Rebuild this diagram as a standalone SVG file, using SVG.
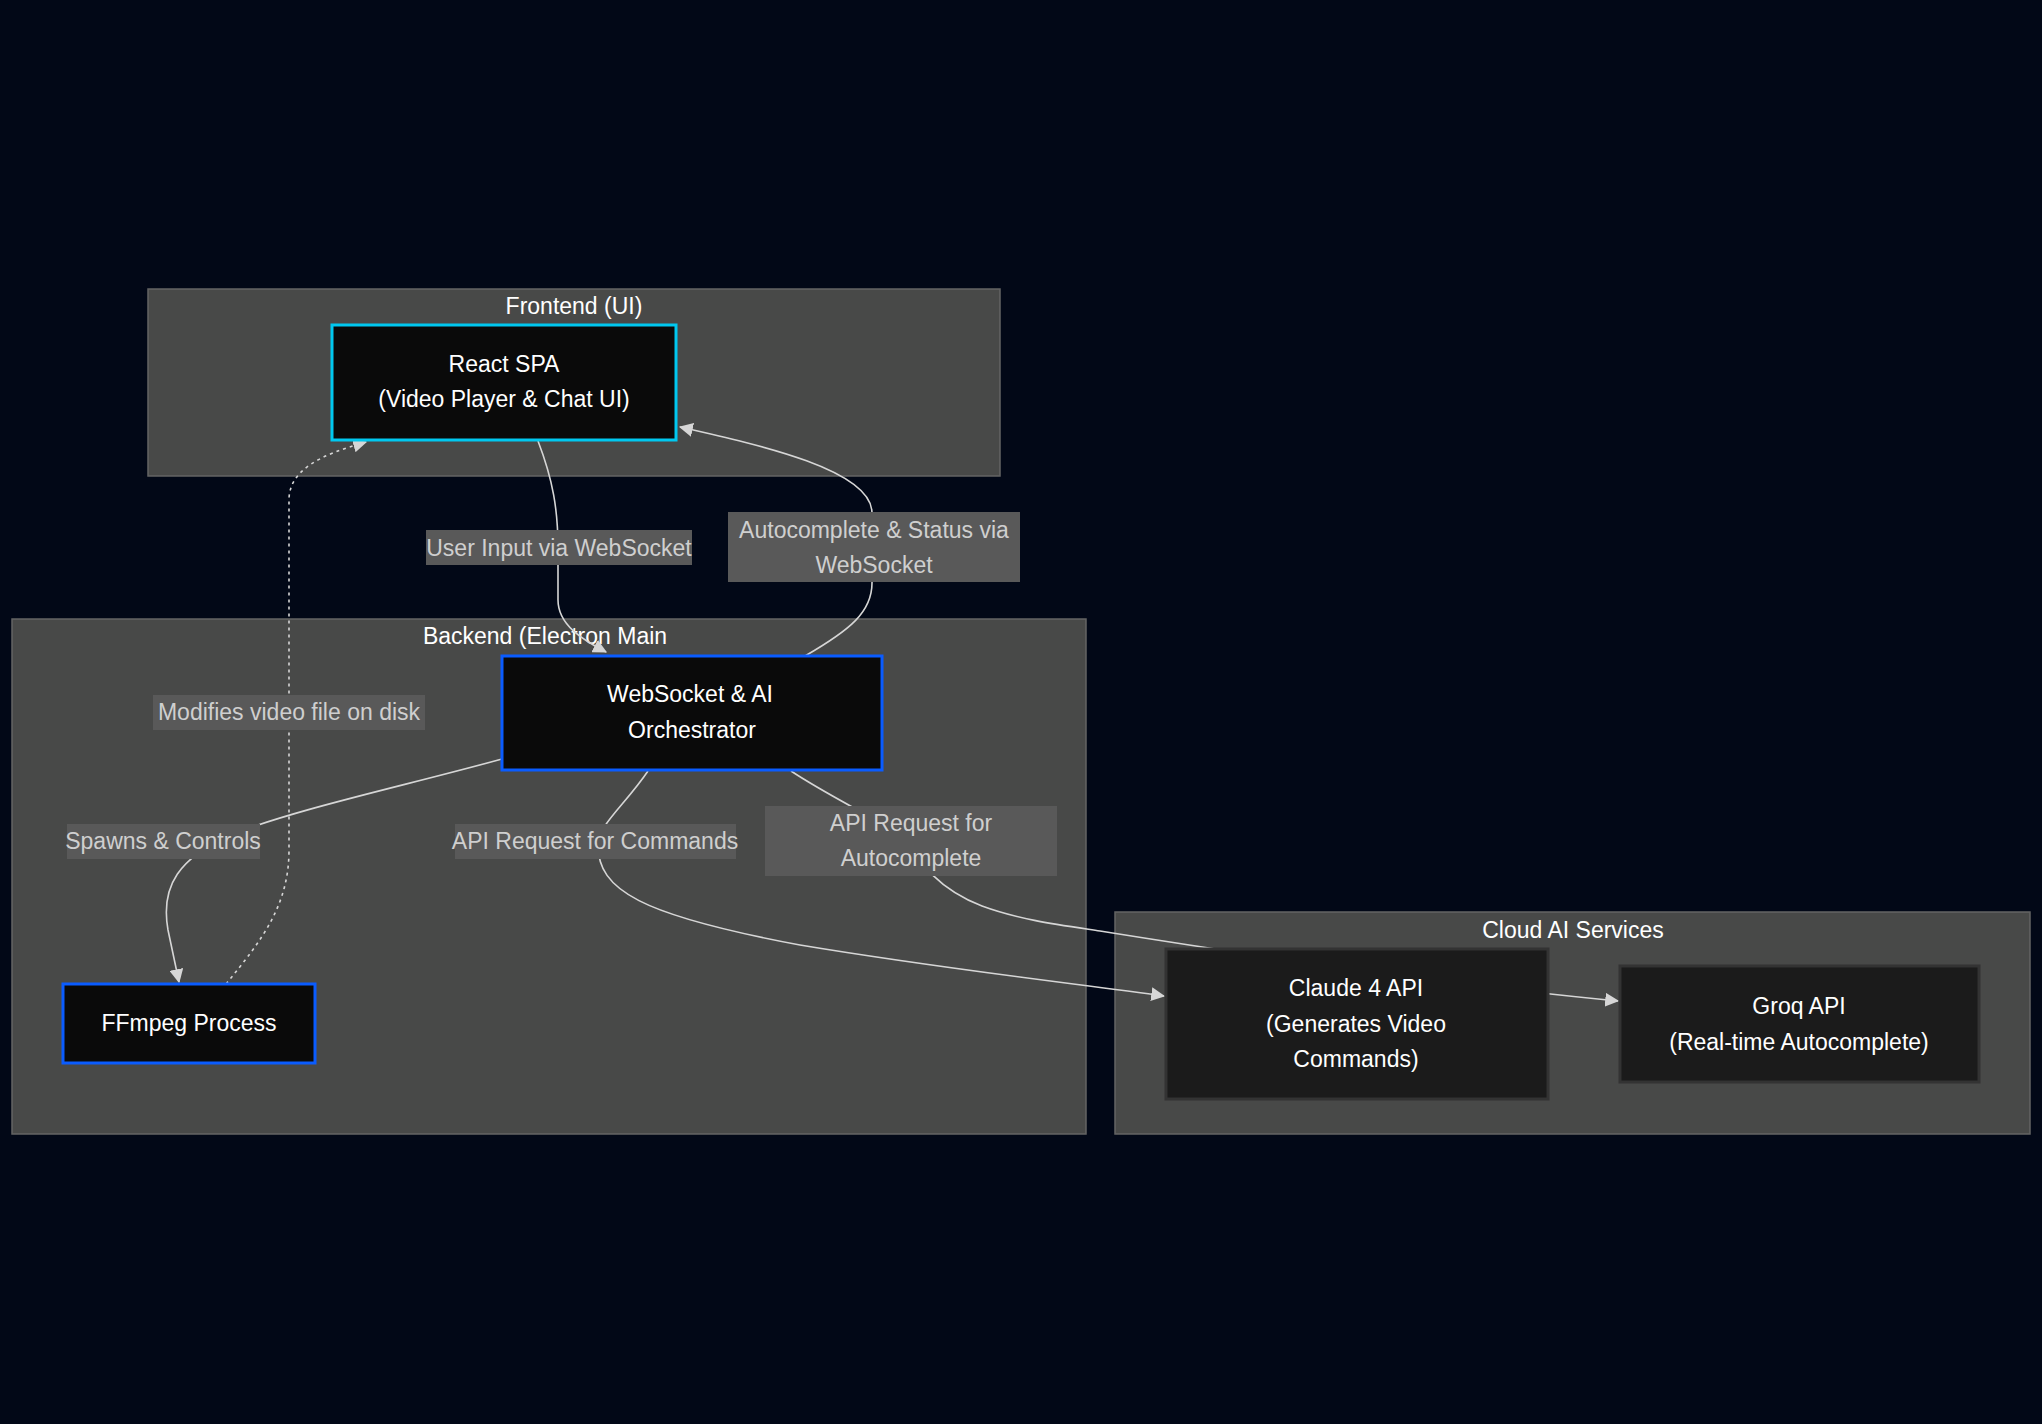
<svg xmlns="http://www.w3.org/2000/svg" width="2042" height="1424" viewBox="0 0 2042 1424">
<defs>
<style>
.cluster rect{fill:#484948;stroke:#646464;stroke-width:1.5}
.clabel{font-family:"Liberation Sans",Arial,sans-serif;font-size:23px;fill:#ffffff;text-anchor:middle;dominant-baseline:central}
.node rect{fill:#0a0a0a;stroke-width:3}
.node.cyan rect{stroke:#00c8f0}
.node.blue rect{stroke:#0a5cff}
.node.cloud rect{fill:#1b1b1b;stroke:#333333;stroke-width:3}
.ntext{font-family:"Liberation Sans",Arial,sans-serif;font-size:23px;fill:#ffffff;text-anchor:middle;dominant-baseline:central}
.edge{fill:none;stroke:#d6d6d6;stroke-width:1.6}
.dotted{stroke-dasharray:3 4}
.elabel rect{fill:#595959}
.elabel text{font-family:"Liberation Sans",Arial,sans-serif;font-size:23px;fill:#cfcfcf;text-anchor:middle;dominant-baseline:central}
</style>
<marker id="arr" viewBox="0 0 12 12" refX="11" refY="6" markerWidth="14" markerHeight="14" markerUnits="userSpaceOnUse" orient="auto">
<path d="M0,0 L12,6 L0,12 z" fill="#d6d6d6"/>
</marker>
</defs>
<rect x="0" y="0" width="2042" height="1424" fill="#020817"/>

<g id="clusters">
<g id="cluster-frontend" class="cluster">
<rect x="148" y="289" width="852" height="187"/>
<text class="clabel" x="574" y="306">Frontend (UI)</text>
</g>
<g id="cluster-backend" class="cluster">
<rect x="12" y="619" width="1074" height="515"/>
<text class="clabel" x="545" y="636">Backend (Electron Main</text>
</g>
<g id="cluster-cloud" class="cluster">
<rect x="1115" y="912" width="915" height="222"/>
<text class="clabel" x="1573" y="930">Cloud AI Services</text>
</g>
</g>

<g id="connectors">
<path class="edge" d="M538,441 C553,480 558,510 558,548 L558,600 C558,625 583,640 606,652" marker-end="url(#arr)"/>
<path class="edge" d="M805,656 C850,630 872,612 872,583 L872,513 C872,470 760,445 680,427" marker-end="url(#arr)"/>
<path class="edge" d="M502,759 C400,787 300,808 230,835 C180,858 160,885 168,930 L179,982" marker-end="url(#arr)"/>
<path class="edge dotted" d="M226,984 C262,940 289,905 289,850 L289,500 C289,470 320,455 366,442" marker-end="url(#arr)"/>
<path class="edge" d="M648,771 C625,805 598,825 598,845 C598,890 640,915 800,945 C950,970 1080,984 1164,996" marker-end="url(#arr)"/>
<path class="edge" d="M791,771 C830,797 880,820 910,841 C915,860 940,890 982,906 C1020,920 1060,925 1100,931 C1250,955 1450,985 1618,1001" marker-end="url(#arr)"/>
</g>

<g id="edge-labels">
<g class="elabel" id="label-user-input">
<rect x="426" y="530" width="266" height="35"/>
<text x="559" y="548">User Input via WebSocket</text>
</g>
<g class="elabel" id="label-autocomplete-status">
<rect x="728" y="512" width="292" height="70"/>
<text x="874" y="530">Autocomplete &amp; Status via</text>
<text x="874" y="565">WebSocket</text>
</g>
<g class="elabel" id="label-modifies">
<rect x="153" y="695" width="272" height="35"/>
<text x="289" y="712">Modifies video file on disk</text>
</g>
<g class="elabel" id="label-spawns">
<rect x="67" y="824" width="193" height="35"/>
<text x="163" y="841">Spawns &amp; Controls</text>
</g>
<g class="elabel" id="label-commands">
<rect x="455" y="824" width="281" height="35"/>
<text x="595" y="841">API Request for Commands</text>
</g>
<g class="elabel" id="label-autocomplete-req">
<rect x="765" y="806" width="292" height="70"/>
<text x="911" y="823">API Request for</text>
<text x="911" y="858">Autocomplete</text>
</g>
</g>

<g id="nodes">
<g id="node-react" class="node cyan">
<rect x="332" y="325" width="344" height="115"/>
<text class="ntext" x="504" y="364">React SPA</text>
<text class="ntext" x="504" y="399">(Video Player &amp; Chat UI)</text>
</g>
<g id="node-orchestrator" class="node blue">
<rect x="502" y="656" width="380" height="114"/>
<text class="ntext" x="690" y="694">WebSocket &amp; AI</text>
<text class="ntext" x="692" y="730">Orchestrator</text>
</g>
<g id="node-ffmpeg" class="node blue">
<rect x="63" y="984" width="252" height="79"/>
<text class="ntext" x="189" y="1023">FFmpeg Process</text>
</g>
<g id="node-claude" class="node cloud">
<rect x="1166" y="949" width="382" height="150"/>
<text class="ntext" x="1356" y="988">Claude 4 API</text>
<text class="ntext" x="1356" y="1024">(Generates Video</text>
<text class="ntext" x="1356" y="1059">Commands)</text>
</g>
<g id="node-groq" class="node cloud">
<rect x="1620" y="966" width="359" height="116"/>
<text class="ntext" x="1799" y="1006">Groq API</text>
<text class="ntext" x="1799" y="1042">(Real-time Autocomplete)</text>
</g>
</g>
</svg>
